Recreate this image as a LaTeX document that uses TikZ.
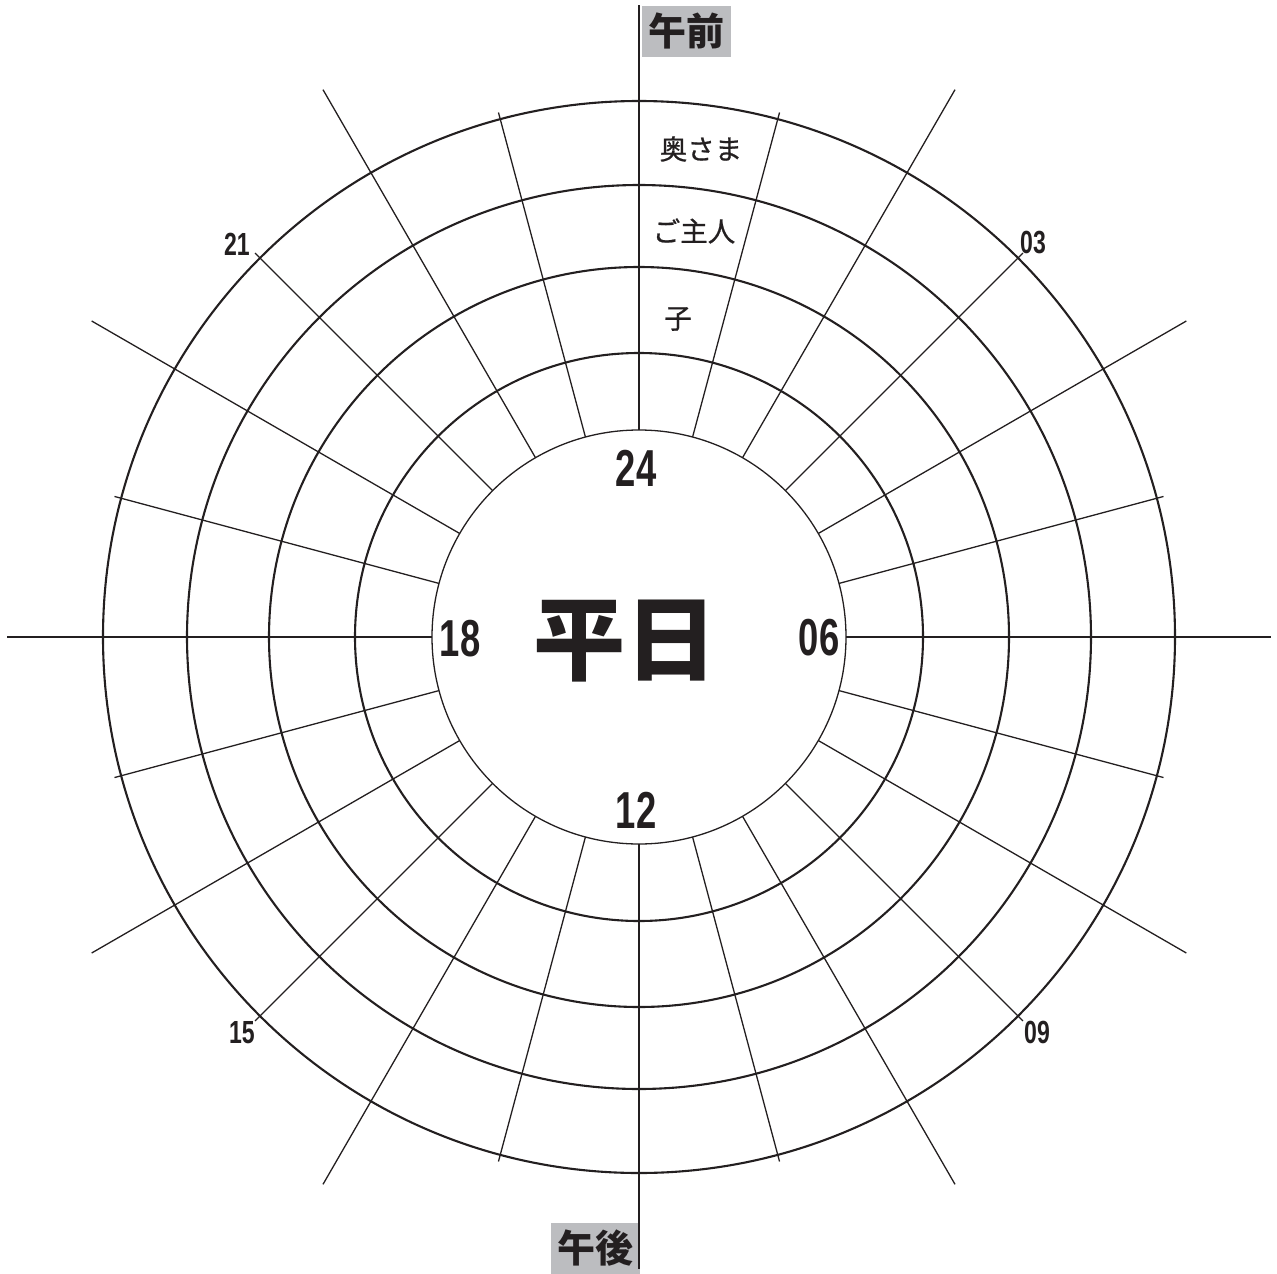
\documentclass[tikz,border=0pt]{standalone}
\usepackage{fontspec}
\newfontfamily\cjk{Noto Sans CJK JP}
\newfontfamily\cjkmed[FakeBold=0.8]{Noto Sans CJK JP}
\newfontfamily\numf{Liberation Sans}
\definecolor{boxgray}{RGB}{188,189,192}
\definecolor{ink}{RGB}{35,31,32}
\tikzset{
  ring/.style={draw=ink, line width=2.1pt},
  innerring/.style={draw=ink, line width=1.3pt},
  spoke/.style={draw=ink, line width=1.3pt},
  bignum/.style={text=ink, inner sep=0pt, font=\numf\bfseries\fontsize{52}{52}\selectfont},
  smallnum/.style={text=ink, inner sep=0pt, font=\numf\bfseries\fontsize{32}{32}\selectfont},
  ringlabel/.style={text=ink, inner sep=0pt, font=\cjkmed\fontsize{27.5}{27.5}\selectfont},
  tag/.style={fill=boxgray, text=ink, inner sep=0pt, minimum width=89pt, minimum height=51pt, font=\cjk\bfseries\fontsize{38}{38}\selectfont}
}
\begin{document}
\begin{tikzpicture}[x=1pt,y=-1pt]
\useasboundingbox (0,0) rectangle (1277,1274);
\coordinate (O) at (639,637);
% tags
\node[tag] (am) at (686.5,31) {午前};
\node[tag] (pm) at (595.5,1248) {午後};
% rings
\foreach \r in {284,370,452,536} \draw[ring] (O) circle[radius=\r pt];
\draw[innerring] (O) circle[radius=207pt];
% spokes
\foreach \i in {0,...,23} {
  \pgfmathsetmacro\a{15*\i}
  \pgfmathsetmacro\re{ifthenelse(mod(\i,2)==0,632,543)}
  \draw[spoke] ({639+207*sin(\a)},{637-207*cos(\a)}) -- ({639+\re*sin(\a)},{637-\re*cos(\a)});
}
% labels
\node[text=ink, inner sep=0pt, font=\cjk\bfseries\fontsize{92}{92}\selectfont] (title) at (625,641) {平日};
\node[bignum] (n24) at (636,468) {\scalebox{0.7}[1]{24}};
\node[bignum] (n06) at (819,638) {\scalebox{0.7}[1]{06}};
\node[bignum] (n12) at (636,810) {\scalebox{0.7}[1]{12}};
\node[bignum] (n18) at (460,639) {\scalebox{0.7}[1]{18}};
\node[smallnum] (n03) at (1033,243) {\scalebox{0.72}[1]{03}};
\node[smallnum] (n09) at (1037,1032) {\scalebox{0.72}[1]{09}};
\node[smallnum] (n15) at (242,1033) {\scalebox{0.72}[1]{15}};
\node[smallnum] (n21) at (237,244) {\scalebox{0.72}[1]{21}};
\node[ringlabel] (wife) at (701,149) {奥さま};
\node[ringlabel] (husband) at (694,231) {ご主人};
\node[ringlabel] (child) at (678,319) {子};
\end{tikzpicture}
\end{document}
